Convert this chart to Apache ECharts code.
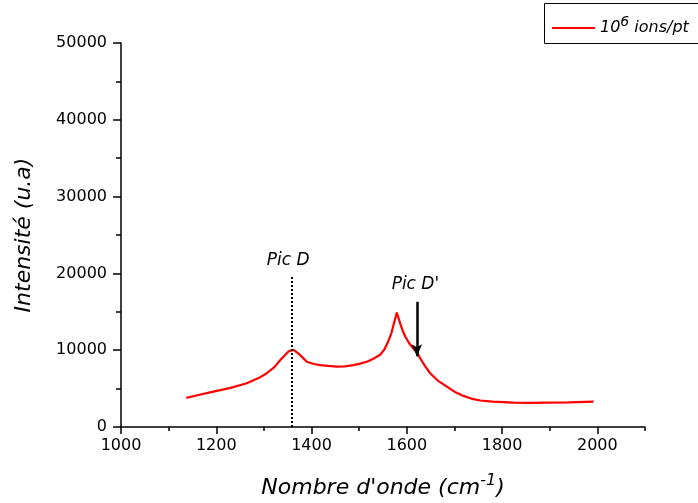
<!DOCTYPE html>
<html>
<head>
<meta charset="utf-8">
<script src="https://cdn.jsdelivr.net/npm/echarts@6/dist/echarts.min.js"></script>
<style>html,body{margin:0;padding:0;background:#fff}#c{width:698px;height:503px}</style>
</head>
<body>
<div id="c"></div>
<script>
const wavenumbers = [1137,1165,1194,1230,1264,1290,1306,1322,1334,1345,1352,1362,1372,1382,1390,1405,1418,1435,1453,1470,1488,1502,1516,1530,1544,1553,1562,1568,1573,1577,1579,1582,1586,1591,1597,1605,1614,1621,1628,1638,1649,1665,1684,1700,1719,1735,1754,1780,1824,1860,1894,1940,1992];
const intensities = [3800,4200,4600,5100,5700,6400,7000,7800,8700,9400,9850,10050,9600,9000,8500,8200,8050,7950,7850,7900,8050,8250,8500,8900,9400,10100,11300,12300,13500,14400,14900,14300,13500,12600,11750,10900,10200,9750,8950,7950,7000,6050,5250,4600,4050,3700,3450,3300,3170,3150,3170,3200,3300];
const seriesName = '10^6 ions/pt';
const picD = {label: 'Pic D', x: 1359, top: 19570, textX: 1351, textY: 21700};
const picDp = {label: "Pic D'", x: 1621, top: 16300, tip: 9200, textX: 1618, textY: 18550};

const titleFont = "'Comic Sans MS','DejaVu Sans',sans-serif";
const tickFont = "'DejaVu Sans',sans-serif";
const chart = echarts.init(document.getElementById('c'), null, {renderer: 'canvas'});
const data = wavenumbers.map((w, i) => [w, intensities[i]]);

chart.setOption({
  animation: false,
  backgroundColor: '#fff',
  grid: {left: 121, right: 53, top: 43, bottom: 76, containLabel: false, outerBoundsMode: 'none'},
  graphic: [{
    type: 'rect', left: 544, top: 3, z: 0,
    shape: {width: 180, height: 40},
    style: {fill: '#fff', stroke: '#000', lineWidth: 1}
  }],
  legend: {
    left: 544, top: 3,
    orient: 'horizontal',
    data: [{name: seriesName, icon: 'rect'}],
    itemWidth: 43, itemHeight: 2,
    padding: [12, 4, 12, 8],
    borderWidth: 0,
    selectedMode: false,
    z: 5,
    formatter: () => '{a|10}{s|6}{a| ions/pt}',
    textStyle: {
      rich: {
        a: {fontFamily: titleFont, fontStyle: 'italic', fontSize: 16, color: '#000'},
        s: {fontFamily: titleFont, fontStyle: 'italic', fontSize: 14, color: '#000', padding: [0, 0, 12, 0]}
      }
    }
  },
  xAxis: [{
    type: 'value', min: 1000, max: 2100, interval: 200,
    name: '{a|Nombre d\'onde (cm}{s|-1}{a|)}',
    nameLocation: 'middle', nameGap: 46,
    nameTextStyle: {
      rich: {
        a: {fontFamily: titleFont, fontStyle: 'italic', fontSize: 22, color: '#000'},
        s: {fontFamily: titleFont, fontStyle: 'italic', fontSize: 16, color: '#000', padding: [0, 0, 14, 0]}
      }
    },
    axisLine: {show: true, onZero: false, lineStyle: {color: '#000', width: 1.5}},
    axisTick: {show: true, inside: false, length: 7, lineStyle: {color: '#000', width: 1.5}},
    axisLabel: {show: true, showMaxLabel: false, color: '#000', fontFamily: tickFont, fontSize: 16, margin: 11, formatter: v => String(v)},
    splitLine: {show: false}
  }, {
    type: 'value', min: 1000, max: 2100, interval: 100, position: 'bottom',
    axisLine: {show: false},
    axisTick: {show: true, inside: false, length: 4, lineStyle: {color: '#000', width: 1.5}},
    axisLabel: {show: false},
    splitLine: {show: false}
  }],
  yAxis: {
    type: 'value', min: 0, max: 50000, interval: 10000,
    name: 'Intensité (u.a)',
    nameLocation: 'middle', nameGap: 86, nameRotate: 90,
    nameTextStyle: {fontFamily: titleFont, fontStyle: 'italic', fontSize: 22, color: '#000'},
    axisLine: {show: true, lineStyle: {color: '#000', width: 1.5}},
    axisTick: {show: true, inside: false, length: 8, lineStyle: {color: '#000', width: 1.5}},
    minorTick: {show: true, splitNumber: 2, length: 5, lineStyle: {color: '#000', width: 1.5}},
    axisLabel: {color: '#000', fontFamily: tickFont, fontSize: 16, margin: 14, formatter: v => String(v)},
    splitLine: {show: false}
  },
  series: [{
    name: seriesName,
    type: 'line',
    data: data,
    showSymbol: false,
    symbol: 'none',
    lineStyle: {color: '#ff0000', width: 2.2},
    itemStyle: {color: '#ff0000'},
    markLine: {
      silent: true,
      animation: false,
      label: {show: false},
      data: [
        [{coord: [picD.x, 0], symbol: 'none', lineStyle: {type: [2, 2], color: '#000', width: 2}},
         {coord: [picD.x, picD.top], symbol: 'none'}],
        [{coord: [picDp.x, picDp.top], symbol: 'none', lineStyle: {type: 'solid', color: '#000', width: 2.5}},
         {coord: [picDp.x, picDp.tip], symbol: 'arrow', symbolSize: [8, 12]}]
      ]
    },
    markPoint: {
      silent: true,
      symbol: 'circle', symbolSize: 0,
      label: {show: true, position: 'inside', color: '#000', fontFamily: titleFont, fontStyle: 'italic', fontSize: 17},
      data: [
        {coord: [picD.textX, picD.textY], label: {formatter: picD.label}},
        {coord: [picDp.textX, picDp.textY], label: {formatter: picDp.label}}
      ]
    }
  }]
});
</script>
</body>
</html>
